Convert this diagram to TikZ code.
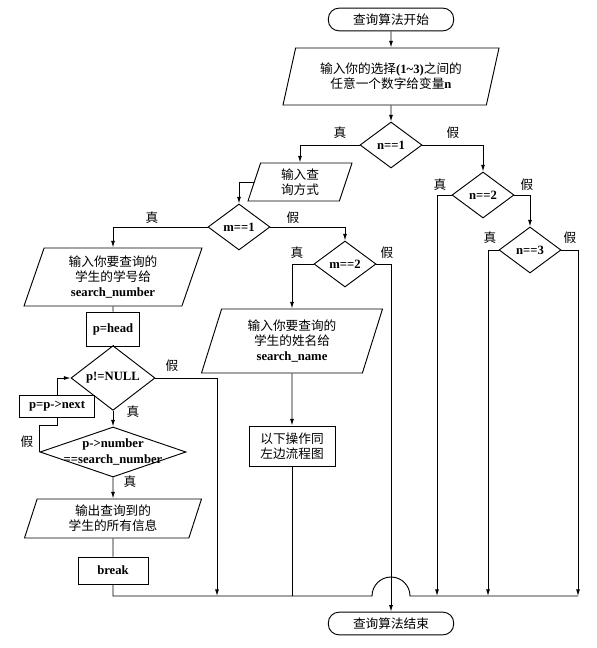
\documentclass[tikz,border=0pt]{standalone}
\usepackage{fontspec}
\usepackage{tikz}
\usetikzlibrary{arrows.meta, calc, shapes.geometric}
\setmainfont{Liberation Serif}
\newfontfamily\cjk{Noto Sans CJK SC}
\newcommand{\cn}[1]{{\cjk\mdseries #1}}

\begin{document}
\begin{tikzpicture}[x=0.75pt, y=-0.75pt, line width=0.7pt,
    every node/.style={font=\fontsize{9.5}{11.5}\selectfont\bfseries, align=center},
    term/.style={draw, rounded corners=8pt, minimum width=94pt, minimum height=17pt, inner sep=0pt},
    io/.style={draw, trapezium, trapezium left angle=65, trapezium right angle=115,
        trapezium stretches body, inner sep=0pt},
    proc/.style={draw, rectangle, inner sep=0pt},
    cond/.style={draw, diamond, inner sep=0pt, minimum width=46.5pt, minimum height=34.5pt},
    arr/.style={-{Latex[length=5pt, width=3pt]}}]
    \useasboundingbox (0,0) rectangle (596,648);

    % Start and first choice
    \node[term] (start) at (391,19.5) {\cn{查询算法开始}};
    \node[io, minimum width=162pt, minimum height=42.75pt] (input) at (391,76.5)
        {\cn{输入你的选择}(1\textasciitilde3)\cn{之间的}\\\cn{任意一个数字给变量}n};
    \node[cond] (n1) at (391,145) {n==1};
    \node[cond] (n2) at (483,195) {n==2};
    \node[cond] (n3) at (530,250) {n==3};

    % Query mode
    \node[io, minimum width=78pt, minimum height=28.5pt] (qfs) at (300,182) {\cn{输入查}\\\cn{询方式}};
    \node[cond] (m1) at (239,227) {m==1};
    \node[cond] (m2) at (345,264) {m==2};

    % Search by number
    \node[io, minimum width=133.5pt, minimum height=43.5pt] (sn) at (113,277)
        {\cn{输入你要查询的}\\\cn{学生的学号给}\\search\_number};
    \node[proc, minimum width=39.75pt, minimum height=25.5pt] (head) at (113,329) {p=head};
    \node[cond, minimum width=63pt, minimum height=36pt] (pn) at (113,378) {p!=NULL};
    \node[proc, minimum width=56.25pt, minimum height=16.5pt] (next) at (57,406) {p=p->next};
    \node[cond, minimum width=109.5pt, minimum height=37.5pt,
        label={center:{p->number\\==search\_number}}] (pnum) at (113,452) {};
    \node[io, minimum width=132.75pt, minimum height=29.25pt] (out) at (113,518.5)
        {\cn{输出查询到的}\\\cn{学生的所有信息}};
    \node[proc, minimum width=52.5pt, minimum height=20.25pt] (brk) at (113,570.5) {break};

    % Search by name
    \node[io, minimum width=135.75pt, minimum height=48pt] (sname) at (292,341)
        {\cn{输入你要查询的}\\\cn{学生的姓名给}\\search\_name};
    \node[proc, minimum width=64.5pt, minimum height=30pt] (same) at (292,446)
        {\cn{以下操作同}\\\cn{左边流程图}};

    % End
    \node[term] (end) at (391,623.5) {\cn{查询算法结束}};

    % Points on the bottom line
    \coordinate (b1) at (217,596);
    \coordinate (b2) at (292,596);
    \coordinate (jl) at (372,596);
    \coordinate (b3) at (437,596);
    \coordinate (b4) at (488,596);
    \coordinate (b5) at (578,596);

    % Branch labels
    \node (n1t) at (340,133) {\cn{真}};
    \node (n1f) at (453,133) {\cn{假}};
    \node (n2t) at (440,185) {\cn{真}};
    \node (n2f) at (527,185) {\cn{假}};
    \node (n3t) at (490,238) {\cn{真}};
    \node (n3f) at (570,238) {\cn{假}};
    \node (m1t) at (152,218) {\cn{真}};
    \node (m1f) at (293,218) {\cn{假}};
    \node (m2t) at (297,253) {\cn{真}};
    \node (m2f) at (387,253) {\cn{假}};
    \node (pnf) at (172,366) {\cn{假}};
    \node (pnt) at (133,412) {\cn{真}};
    \node (pnumf) at (27,442) {\cn{假}};
    \node (pnumt) at (130,482) {\cn{真}};

    % Connectors
    \draw[arr] (start) -- (input);
    \draw[arr] (input) -- (n1);
    \draw[arr] (n1.west) -| (qfs.north);
    \draw[arr] (n1.east) -| (n2.north);
    \draw[arr] (n2.west) -| (b3);
    \draw[arr] (n2.east) -| (n3.north);
    \draw[arr] (n3.west) -| (b4);
    \draw[arr] (n3.east) -| (b5);
    \draw[arr] (qfs.west) -| (m1.north);
    \draw[arr] (m1.west) -| (sn.north);
    \draw[arr] (m1.east) -| (m2.north);
    \draw[arr] (m2.west) -| (sname.north);
    \draw[arr] (m2.east) -| (end.north);
    \draw[arr] (sname) -- (same);
    \draw (same) -- (b2);
    \draw (sn) -- (head);
    \draw (head) -- (pn);
    \draw[arr] (pn) -- (pnum);
    \draw[arr] (pnum) -- (out);
    \draw (out) -- (brk);
    \draw[arr] (pn.east) -| (b1);
    \draw[arr] (next.north) |- (pn.west);
    \draw (pnum.west) |- ($(next.south)+(0,8)$) -- (next.south);
    % Bottom line, jumping over the drop to the end
    \draw (brk.south) |- (jl) arc (180:360:19) -- (b5);
\end{tikzpicture}
\end{document}
